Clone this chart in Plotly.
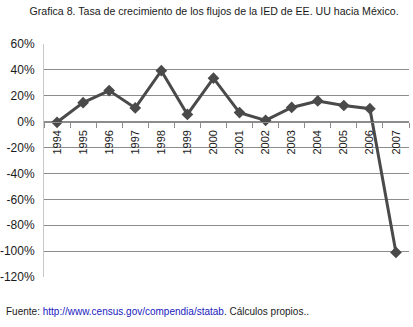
import plotly.graph_objects as go

years = ["1994","1995","1996","1997","1998","1999","2000","2001","2002","2003","2004","2005","2006","2007"]
growth = [-0.5, 14.7, 24, 10.6, 39.4, 5.6, 33.6, 7, 1, 11, 16, 12.5, 10, -101]
y_ticks = [60, 40, 20, 0, -20, -40, -60, -80, -100, -120]

FONT = "Liberation Sans, Arial, sans-serif"

fig = go.Figure()
fig.add_trace(go.Scatter(
    x=years, y=growth, mode="lines+markers",
    line=dict(color="#4a4a4a", width=3),
    marker=dict(symbol="diamond", size=9, color="#4a4a4a"),
    showlegend=False, cliponaxis=False,
))

fig.update_layout(
    width=413, height=327,
    margin=dict(l=44, r=4, t=44, b=50, autoexpand=False),
    paper_bgcolor="white", plot_bgcolor="white",
    font=dict(family=FONT, color="#000000", size=12),
    title=dict(text="Grafica 8. Tasa de crecimiento de los flujos de la IED de EE. UU hacia México.",
               x=0.466, xanchor="center", xref="paper", y=0.966, yanchor="middle", yref="container",
               font=dict(family=FONT, size=10.6, color="#1a1a1a")),
    xaxis=dict(
        type="category", anchor="free", position=2/3, automargin=False,
        range=[-0.5, 13.5],
        showline=True, linecolor="#8c8c8c", linewidth=1,
        ticks="outside", tickson="boundaries", ticklen=5, tickcolor="#8c8c8c",
        tickangle=-90, showgrid=False, zeroline=False, ticklabelstandoff=3,
        tickfont=dict(family=FONT, size=11, color="#1a1a1a"),
    ),
    yaxis=dict(
        range=[-120, 60], tickvals=y_ticks, ticktext=[f"{v}%" for v in y_ticks],
        automargin=False,
        showgrid=True, gridcolor="#8c8c8c", gridwidth=1,
        zeroline=False, showline=True, linecolor="#c8c8c8", linewidth=1,
        tickfont=dict(family=FONT, size=12, color="#1a1a1a"),
        ticks="outside", ticklen=6, tickcolor="rgba(0,0,0,0)",
    ),
)

fig.add_annotation(
    xref="paper", yref="paper", x=-0.1096, y=-0.150, xanchor="left", yanchor="middle",
    showarrow=False,
    text="Fuente: <span style='color:#2020c0'>http://www.census.gov/compendia/statab</span>. Cálculos propios..",
    font=dict(family=FONT, size=10, color="#1a1a1a"),
)

fig.write_html("out.html", config={"displayModeBar": False},
               post_script="document.body.style.margin='0';document.body.style.padding='0';")
